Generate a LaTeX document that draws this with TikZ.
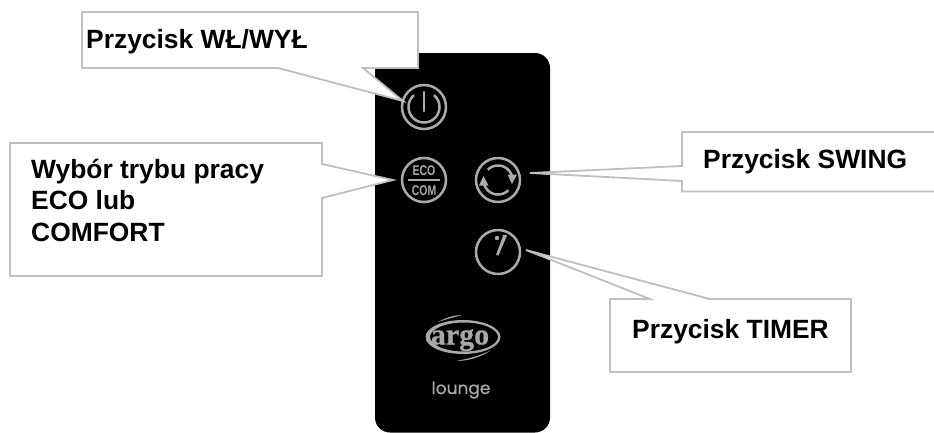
\documentclass[tikz,border=0pt]{standalone}
\usepackage{fontspec}
\setmainfont{Liberation Sans}
\newfontfamily\logofont[FakeBold=0.5]{Liberation Serif}
\newfontfamily\loungefont[FakeBold=0.6]{Poppins}
\definecolor{callline}{HTML}{BFBFBF}
\definecolor{icon}{HTML}{ABABAB}
\definecolor{logogray}{HTML}{A8A8A8}
\tikzset{
  callout/.style={draw=callline,line width=1.8pt,fill=white,line join=miter,miter limit=10},
  calltext/.style={font=\fontsize{26.4}{32}\selectfont\bfseries,text=black,anchor=base west,inner sep=0pt},
  iconline/.style={draw=icon,line width=2.5pt},
  ring/.style={circle,draw=icon,line width=2.5pt,minimum size=44pt,inner sep=0pt},
  icontext/.style={inner sep=0pt,text=icon,font=\fontsize{14}{14}\selectfont\bfseries,xscale=.75},
}
\begin{document}
\begin{tikzpicture}[x=1pt,y=-1pt]
\useasboundingbox (0,0) rectangle (934,432);
% remote body
\fill[black,rounded corners=15pt] (375,53) rectangle (550,432.5);
% buttons
\node[ring] (power) at (424,107) {};
\node[ring] (eco) at (424,180) {};
\node[ring] (swing) at (498,180) {};
\node[ring] (timer) at (498,252) {};
% power icon
\draw[iconline,line cap=round] (424,92) -- (424,111);
\draw[iconline] plot[domain=-50:230,samples=40] ({424+15.5*cos(\x)},{107+15.5*sin(\x)});
% eco icon
\node[icontext] (ecotxt) at (424,171) {ECO};
\node[icontext] (comtxt) at (424,191) {COM};
\draw[iconline] (408,180) -- (440,180);
% swing icon
\draw[iconline] plot[domain=-135:-15,samples=30] ({498+14.5*cos(\x)},{180+14.5*sin(\x)});
\draw[iconline] plot[domain=45:165,samples=30] ({498+14.5*cos(\x)},{180+14.5*sin(\x)});
\fill[icon] (507.5,174.5) -- (517,174.5) -- (512,184) -- cycle;
\fill[icon] (479,185.5) -- (488.5,185.5) -- (483.5,176) -- cycle;
% timer icon
\fill[icon] (496,255) -- (498.5,255.5) -- (507,235.5) -- (503.5,234.5) -- cycle;
\fill[icon] (497,238) circle[radius=2.2];
% logo
\fill[logogray,even odd rule] (463,337) ellipse[x radius=37.5,y radius=17] (464,337) ellipse[x radius=34,y radius=14.5];
\fill[logogray] (438,322) .. controls (447,317) and (455,315) .. (462,315) .. controls (455,317) and (447,319) .. (438,322) -- cycle;
\fill[logogray] (456,361) .. controls (467,359) and (480,356) .. (491,350) .. controls (482,357) and (468,361) .. (456,361) -- cycle;
\node[inner sep=0pt,anchor=base,text=logogray,font=\logofont\fontsize{30}{30}\selectfont\bfseries] (argo) at (460,344.5) {argo};
\node[inner sep=0pt,anchor=base,text=logogray,font=\loungefont\fontsize{17}{17}\selectfont] (lounge) at (461,394) {lounge};
% callouts
\draw[callout] (82,12) -- (418,12) -- (418,68) -- (363,68) -- (403,101) -- (278,68) -- (82,68) -- cycle;
\draw[callout] (10,143) -- (322,143) -- (322,164) -- (393,180) -- (322,198) -- (322,276) -- (10,276) -- cycle;
\draw[callout] (945,132) -- (682,132) -- (682,166) -- (530,173) -- (682,181) -- (682,191.5) -- (945,191.5);
\draw[callout] (610,299) -- (650,299) -- (526,250) -- (710,299) -- (851,299) -- (851,372) -- (610,372) -- cycle;
% callout texts
\node[calltext] (t1) at (86,48) {Przycisk WŁ/WYŁ};
\node[calltext] (t2a) at (31,178) {Wybór trybu pracy};
\node[calltext] (t2b) at (31,209) {ECO lub};
\node[calltext] (t2c) at (31,241) {COMFORT};
\node[calltext] (t3) at (703,168) {Przycisk SWING};
\node[calltext] (t4) at (632,338) {Przycisk TIMER};
\end{tikzpicture}
\end{document}
